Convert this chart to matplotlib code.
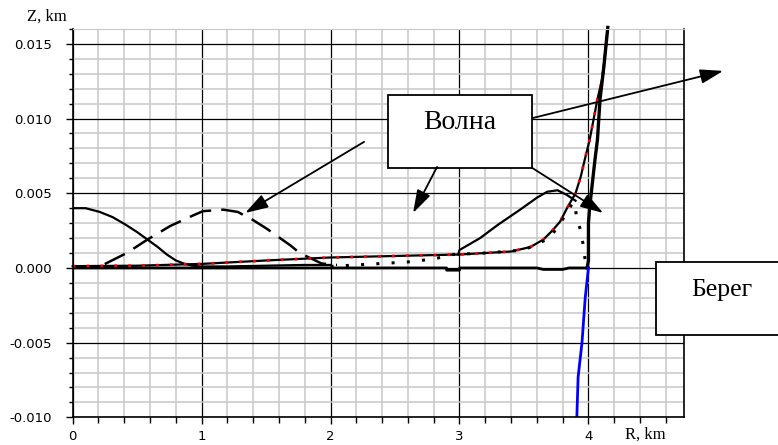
# plot.py
# Wave run-up on a sloping shore: profiles Z(R) at several moments.

import matplotlib.pyplot as plt
from matplotlib.ticker import MultipleLocator, FuncFormatter
from matplotlib.patches import Rectangle

plt.rcParams['axes.unicode_minus'] = False

# --- data (R in km, Z in km) ---
# initial wave, solid
r_wave0 = [0.0, 0.1, 0.21, 0.31, 0.41, 0.5, 0.58, 0.66, 0.73, 0.8, 0.86, 0.93, 0.99, 1.2, 1.5, 1.8, 2.0]
z_wave0 = [0.0040, 0.0040, 0.00375, 0.0034, 0.0029, 0.0024, 0.0019, 0.0014, 0.0009, 0.0005,
           0.0003, 0.00015, 0.0001, 0.0001, 0.00015, 0.0002, 0.0002]

# wave moving to shore, dashed
r_wave1 = [0.0, 0.12, 0.235, 0.42, 0.58, 0.755, 0.93, 1.01, 1.17, 1.28, 1.4, 1.51, 1.69, 1.76, 1.93, 2.05]
z_wave1 = [0.0, 0.00005, 0.0002, 0.001, 0.0019, 0.0028, 0.0035, 0.0038, 0.0039, 0.00375,
           0.0032, 0.0026, 0.0015, 0.001, 0.0003, 0.0002]

# run-up profile (black line with red dots)
r_run = [0.0, 0.5, 1.0, 1.5, 2.0, 2.5, 3.0, 3.2, 3.4, 3.55, 3.65, 3.72, 3.78, 3.84,
         3.90, 3.94, 3.97, 4.01, 4.07, 4.11, 4.15]
z_run = [0.00012, 0.00015, 0.00027, 0.0005, 0.0007, 0.0008, 0.0009, 0.001, 0.0011, 0.0014,
         0.0019, 0.0025, 0.0031, 0.0041, 0.005, 0.0061, 0.0072, 0.0086, 0.0113, 0.0128, 0.0161]

# wave near the shore, solid
r_near = [2.99, 3.0, 3.16, 3.3, 3.47, 3.6, 3.68, 3.76, 3.83, 3.9]
z_near = [0.0009, 0.0012, 0.002, 0.0029, 0.0039, 0.0047, 0.0051, 0.0052, 0.0049, 0.0045]

# dotted profile
r_dot = [2.0, 2.2, 2.4, 2.6, 2.8, 2.95, 3.2, 3.5, 3.7, 3.82, 3.88, 3.9, 3.91, 3.94, 3.96, 3.975, 3.99]
z_dot = [0.0001, 0.0002, 0.0003, 0.0004, 0.0006, 0.0009, 0.001, 0.0012, 0.002, 0.0035,
         0.0044, 0.0039, 0.0033, 0.0025, 0.0015, 0.0005, 0.0]

# still water level
r_level = [0.0, 2.9, 2.9, 3.0, 3.0, 3.6, 3.65, 3.8, 3.85, 4.0]
z_level = [0.0, 0.0, -0.00015, -0.00015, 0.0, 0.0, -0.0001, -0.0001, 0.0, 0.0]

# shore line (thick)
r_shore = [3.99, 4.0, 4.0, 4.01, 4.05, 4.07, 4.09, 4.12, 4.15]
z_shore = [0.0, 0.0005, 0.003, 0.0041, 0.0072, 0.0086, 0.0113, 0.0135, 0.0161]

# beach slope under water (blue)
r_beach = [4.0, 3.975, 3.95, 3.92, 3.91]
z_beach = [0.0, -0.002, -0.005, -0.0073, -0.010]

# --- figure ---
fig = plt.figure(figsize=(7.78, 4.45), dpi=100)
ax = fig.add_axes([0.0934, 0.0622, 0.7856, 0.8728])
ax.set_xlim(0, 4.74)
ax.set_ylim(-0.010, 0.016)

# grid: gray every 0.2 km / 0.001 km, black every 1 km / 0.005 km
ax.xaxis.set_major_locator(MultipleLocator(1))
ax.xaxis.set_minor_locator(MultipleLocator(0.2))
ax.yaxis.set_major_locator(MultipleLocator(0.005))
ax.yaxis.set_minor_locator(MultipleLocator(0.001))
ax.grid(which='minor', color='#c8c8c8', lw=1.1)
ax.grid(which='major', color='black', lw=0.9)
ax.set_axisbelow(True)
ax.yaxis.set_major_formatter(FuncFormatter(lambda v, p: f"{v:.3f}"))

ax.tick_params(axis='both', which='both', direction='out', colors='black', labelsize=9.5)
ax.tick_params(axis='y', which='major', length=5, width=1, pad=10)
ax.tick_params(axis='y', which='minor', length=3, width=1)
ax.tick_params(axis='x', which='major', length=5, width=1, pad=4)
ax.tick_params(axis='x', which='minor', length=4, width=1)
for side in ['left', 'bottom', 'right']:
    ax.spines[side].set_color('black')
    ax.spines[side].set_linewidth(1.2)
ax.spines['top'].set_color('#c8c8c8')

# curves
ax.plot(r_level, z_level, color='black', lw=2.0)
ax.plot(r_wave0, z_wave0, color='black', lw=1.6)
ax.plot(r_wave1, z_wave1, color='black', lw=1.8, linestyle=(0, (9, 4)))
ax.plot(r_run, z_run, color='black', lw=1.6, clip_on=False)
ax.plot(r_run, z_run, color='red', lw=2.0, linestyle=(0, (1, 4)), clip_on=False)
ax.plot(r_near, z_near, color='black', lw=1.6)
ax.plot(r_dot, z_dot, color='black', lw=2.2, linestyle=(0, (1, 4)))
ax.plot(r_shore, z_shore, color='black', lw=2.4, clip_on=False)
ax.plot(r_beach, z_beach, color='#0000ff', lw=2.0)

# axis captions
fig.text(0.0604, 0.962, "Z, km", family='Liberation Serif', fontsize=12, ha='center', va='center')
fig.text(0.830, 0.0225, "R, km", family='Liberation Serif', fontsize=12, ha='center', va='center')

# callout boxes
ax.add_patch(Rectangle((2.446, 0.0067), 1.117, 0.00488, facecolor='white', edgecolor='black',
                       lw=1.3, zorder=5, clip_on=False))
ax.text(3.005, 0.00971, "Волна", family='Liberation Serif', fontsize=20,
        ha='center', va='center', zorder=6)
ax.add_patch(Rectangle((4.525, -0.00449), 0.95, 0.00489, facecolor='white', edgecolor='black',
                       lw=1.3, zorder=5, clip_on=False))
ax.text(5.037, -0.00147, "Берег", family='Liberation Serif', fontsize=18.5,
        ha='center', va='center', zorder=6, clip_on=False)

# arrows from the "Волна" box
arrow = dict(arrowstyle='-|>,head_length=0.7,head_width=0.22', mutation_scale=20,
             color='black', lw=1.3, shrinkA=0, shrinkB=0)
arrows = [((2.26, 0.00844), (1.338, 0.00368)),
          ((2.826, 0.00676), (2.64, 0.00368)),
          ((3.57, 0.01004), (5.045, 0.01319)),
          ((3.563, 0.0067), (4.114, 0.00368))]
for start, tip in arrows:
    ax.annotate("", xy=tip, xytext=start, arrowprops=arrow, annotation_clip=False, zorder=7)

fig.savefig("out.png", dpi=100)
